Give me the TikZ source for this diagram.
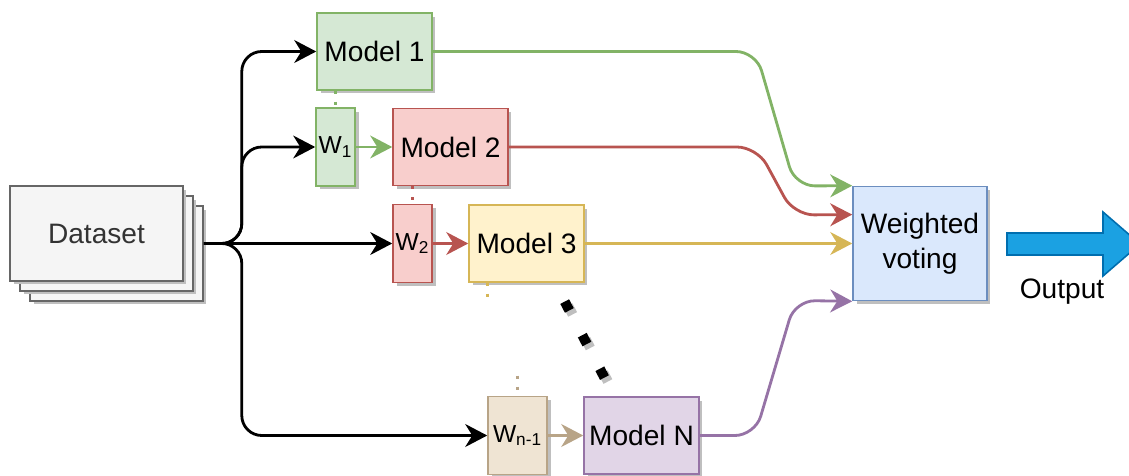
\documentclass[tikz,border=0pt]{standalone}
\usepackage{fontspec}
\setmainfont{Liberation Sans}
\usetikzlibrary{arrows.meta,shadows,calc}
\definecolor{greenfill}{HTML}{D5E8D4}
\definecolor{greenline}{HTML}{82B366}
\definecolor{redfill}{HTML}{F8CECC}
\definecolor{redline}{HTML}{B85450}
\definecolor{yellowfill}{HTML}{FFF2CC}
\definecolor{yellowline}{HTML}{D6B656}
\definecolor{tanfill}{HTML}{EFE4D3}
\definecolor{tanline}{HTML}{B8A487}
\definecolor{purplefill}{HTML}{E1D5E7}
\definecolor{purpleline}{HTML}{9673A6}
\definecolor{bluefill}{HTML}{DAE8FC}
\definecolor{blueline}{HTML}{6C8EBF}
\definecolor{dsfill}{HTML}{F5F5F5}
\definecolor{dsline}{HTML}{666666}
\definecolor{dstext}{HTML}{333333}
\definecolor{outfill}{HTML}{1BA1E2}
\definecolor{outline}{HTML}{006EAF}

\begin{document}
\begin{tikzpicture}
  [x=0.02cm,y=-0.02cm,every node/.style={font=\fontsize{16}{19.8}\selectfont},
   >={Stealth[length=12.5pt,width=13pt,inset=4pt]}]
  \tikzstyle{box} = [draw,line width=0.9pt,inner sep=0pt,
    drop shadow={shadow xshift=0.07cm,shadow yshift=-0.07cm,fill=black!25,opacity=1}]
  \tikzstyle{model} = [box,minimum width=2.3cm,minimum height=1.54cm]
  \tikzstyle{weight} = [box,minimum width=0.78cm,minimum height=1.56cm,
    font=\fontsize{14}{16}\selectfont]
  \tikzstyle{dataset} = [box,fill=dsfill,draw=dsline,text=dstext,
    minimum width=3.46cm,minimum height=1.9cm]
  \tikzstyle{link} = [->,line width=1.6pt,rounded corners=0.4cm]
  \tikzstyle{stub} = [line width=1.7pt,dash pattern=on 1.7pt off 4.5pt]
  \useasboundingbox (0,0) rectangle (1129,476);
  \clip (0,0) rectangle (1129,476);

  \node[dataset] (ds3) at (116.5,253.5) {};
  \node[dataset] (ds2) at (106.5,243.5) {};
  \node[dataset] (ds) at (96.5,233.5) {Dataset};

  \node[model,fill=greenfill,draw=greenline] (m1) at (374.5,51.5) {Model 1};
  \node[weight,fill=greenfill,draw=greenline] (w1) at (335.5,147) {W\textsubscript{1}};
  \node[model,fill=redfill,draw=redline] (m2) at (450.5,147) {Model 2};
  \node[weight,fill=redfill,draw=redline] (w2) at (412.5,243.5) {W\textsubscript{2}};
  \node[model,fill=yellowfill,draw=yellowline] (m3) at (526.5,243.5) {Model 3};
  \node[weight,fill=tanfill,draw=tanline,minimum width=1.18cm] (wn) at (517.5,435.5) {W\textsubscript{n-1}};
  \node[model,fill=purplefill,draw=purpleline] (mN) at (641.5,435.5) {Model N};
  \node[box,fill=bluefill,draw=blueline,minimum width=2.68cm,minimum height=2.28cm,
    align=center] (wv) at (920,243.5) {Weighted\\voting};

  \foreach \dest in {m1,w1,wn}
    \draw[link] (ds3.east |- ds2) -- ++(38,0) |- (\dest);
  \draw[link] (ds3.east |- ds2) -- (w2);

  \draw[link,greenline] (w1) -- (m2);
  \draw[link,redline] (w2) -- (m3);
  \draw[link,tanline] (wn) -- (mN);

  \draw[stub,greenline] (m1.south -| w1) -- (w1.north);
  \draw[stub,redline] (m2.south -| w2) -- (w2.north);
  \draw[stub,yellowline] (m3.south -| wn.west) -- ++(0,17);
  \draw[stub,tanline] (wn.north) ++(0,-20) -- (wn.north);

  \draw[line width=5.67pt,dash pattern=on 5.67pt off 15.9pt,black!25]
    (568,305.6) -- (608,381.7);
  \draw[line width=5.67pt,dash pattern=on 5.67pt off 15.9pt]
    (564.7,301.6) -- (604.5,377.7);

  \draw[link,greenline] (m1) -- (756,51.5) -- (795,186) -- (wv.north west);
  \draw[link,redline] (m2) -- (757,147) -- (794,215) -- ($(wv.north west)!0.25!(wv.south west)$);
  \draw[link,yellowline] (m3) -- (wv);
  \draw[link,purpleline] (mN) -- (755,435.5) -- (795,300.5) -- (wv.south west);

  \draw[fill=outfill,draw=outline,line width=0.9pt] (1007,233) -- (1103,233) -- (1103,212)
    -- (1140,244) -- (1103,276) -- (1103,255) -- (1007,255) -- cycle;
  \node (out) at (1062,292) {Output};
\end{tikzpicture}
\end{document}
